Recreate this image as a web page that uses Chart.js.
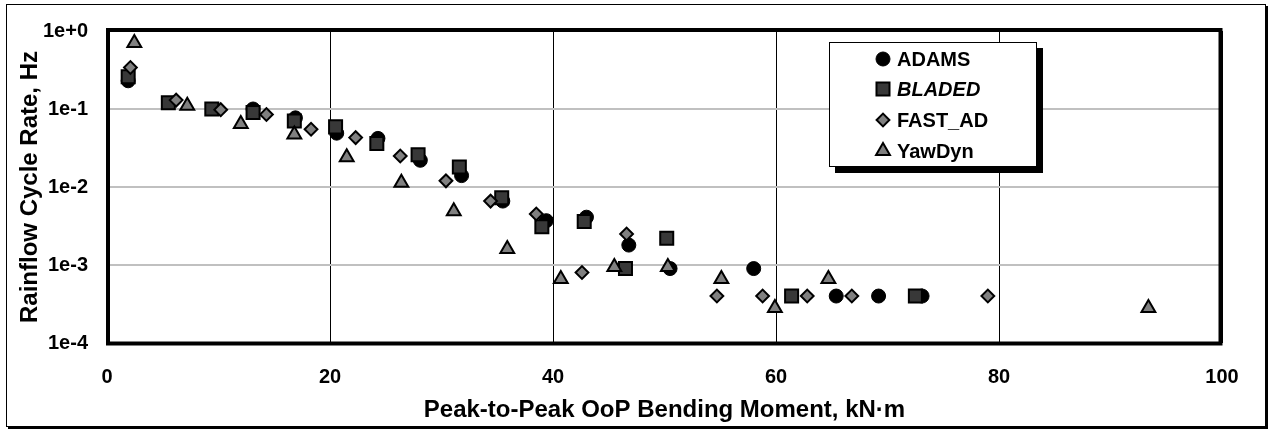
<!DOCTYPE html>
<html><head><meta charset="utf-8">
<script src="https://cdn.jsdelivr.net/npm/chart.js@4/dist/chart.umd.min.js"></script>
<style>html,body{margin:0;padding:0;background:#fff;}canvas{display:block;}</style>
</head><body>
<canvas id="c" width="1271" height="432"></canvas>
<script>
// ---- data ----
const seriesNames = ['ADAMS', 'BLADED', 'FAST_AD', 'YawDyn'];

const adamsX = [1.9, 13.1, 16.9, 20.6, 24.3, 28.1, 31.8, 35.5, 39.4, 43.0, 46.8, 50.5, 58.0, 65.4, 69.2, 73.1];
const adamsY = [0.23, 0.10, 0.077, 0.049, 0.042, 0.022, 0.014, 0.0066, 0.0037, 0.0041, 0.0018, 0.0009, 0.0009, 0.0004, 0.0004, 0.0004];

const bladedX = [1.9, 5.5, 9.4, 13.1, 16.8, 20.5, 24.2, 27.9, 31.6, 35.4, 39.0, 42.8, 46.5, 50.2, 61.4, 72.5];
const bladedY = [0.26, 0.12, 0.10, 0.09, 0.07, 0.059, 0.036, 0.026, 0.018, 0.0073, 0.0031, 0.0036, 0.0009, 0.0022, 0.0004, 0.0004];

const fastX = [2.1, 6.2, 10.2, 14.3, 18.3, 22.3, 26.3, 30.4, 34.4, 38.5, 42.6, 46.6, 54.7, 58.8, 62.8, 66.8, 79.0];
const fastY = [0.34, 0.13, 0.098, 0.085, 0.055, 0.043, 0.025, 0.012, 0.0066, 0.0045, 0.0008, 0.0025, 0.0004, 0.0004, 0.0004, 0.0004, 0.0004];

const yawX = [2.45, 7.2, 12.0, 16.8, 21.5, 26.4, 31.1, 35.9, 40.7, 45.5, 50.3, 55.1, 59.9, 64.7, 93.4];
const yawY = [0.70, 0.11, 0.064, 0.047, 0.024, 0.0113, 0.0049, 0.0016, 0.00066, 0.00094, 0.00094, 0.00066, 0.00028, 0.00066, 0.00028];

const xTickValues = [0, 20, 40, 60, 80, 100];
const xTickLabels = ['0', '20', '40', '60', '80', '100'];
const yTickValues = [1e-4, 1e-3, 1e-2, 1e-1, 1];
const yTickLabels = ['1e-4', '1e-3', '1e-2', '1e-1', '1e+0'];

const xTitle = 'Peak-to-Peak OoP Bending Moment, kN\u00b7m';
const yTitle = 'Rainflow Cycle Rate, Hz';

// ---- styles ----
const FONT = "'Liberation Sans', Arial, Helvetica, sans-serif";
const styles = {
  ADAMS:   {pointStyle: 'circle',  radius: 7,   bg: '#000000', border: '#000000', bw: 1},
  BLADED:  {pointStyle: 'rect',    radius: 9.2, bg: '#383838', border: '#000000', bw: 2},
  FAST_AD: {pointStyle: 'rectRot', radius: 6.4, bg: '#808080', border: '#000000', bw: 2},
  YawDyn:  {pointStyle: 'triangle',radius: 8,   bg: '#808080', border: '#000000', bw: 2}
};

function pts(xs, ys) { return xs.map((x, i) => ({x: x, y: ys[i]})); }
function ds(name, xs, ys) {
  const s = styles[name];
  return {
    label: name, data: pts(xs, ys), showLine: false,
    pointStyle: s.pointStyle, pointRadius: s.radius, pointHoverRadius: s.radius,
    backgroundColor: s.bg, borderColor: s.border, borderWidth: s.bw,
    pointBackgroundColor: s.bg, pointBorderColor: s.border, pointBorderWidth: s.bw
  };
}

// dataset index 0 is drawn on top in Chart.js
const datasets = [
  ds('YawDyn', yawX, yawY),
  ds('FAST_AD', fastX, fastY),
  ds('BLADED', bladedX, bladedY),
  ds('ADAMS', adamsX, adamsY)
];

const framePlugin = {
  id: 'frames',
  beforeDraw(chart) {
    const ctx = chart.ctx;
    ctx.save();
    ctx.fillStyle = '#ffffff';
    ctx.fillRect(0, 0, chart.width, chart.height);
    // outer figure border with small shadow
    ctx.fillStyle = '#000000';
    ctx.fillRect(8, 6, 1260, 423);
    ctx.fillStyle = '#ffffff';
    ctx.fillRect(6, 4, 1260, 423);
    ctx.strokeStyle = '#000000';
    ctx.lineWidth = 1;
    ctx.strokeRect(6.5, 4.5, 1259, 422);
    ctx.restore();
  },
  beforeDatasetsDraw(chart) {
    const ctx = chart.ctx, a = chart.chartArea;
    ctx.save();
    ctx.strokeStyle = '#000000';
    ctx.lineWidth = 4;
    ctx.strokeRect(a.left + 1, a.top - 1, a.right - a.left - 2.5, a.bottom - a.top + 1.5);
    ctx.restore();
  },
  afterDraw(chart) {
    const ctx = chart.ctx;
    ctx.save();
    // legend box with shadow
    const bx = 829, by = 42, bw = 208, bh = 125;
    ctx.fillStyle = '#000000';
    ctx.fillRect(bx + 6, by + 6, bw, bh);
    ctx.fillStyle = '#ffffff';
    ctx.fillRect(bx, by, bw, bh);
    ctx.strokeStyle = '#000000';
    ctx.lineWidth = 1;
    ctx.strokeRect(bx + 0.5, by + 0.5, bw - 1, bh - 1);
    const rows = [59, 89, 120, 151];
    seriesNames.forEach((name, i) => {
      const s = styles[name];
      const cy = rows[i];
      ctx.fillStyle = s.bg;
      ctx.strokeStyle = s.border;
      ctx.lineWidth = s.bw;
      Chart.helpers.drawPoint(ctx, {pointStyle: s.pointStyle, radius: s.radius, rotation: 0, borderWidth: s.bw}, 883, cy);
      ctx.fillStyle = '#000000';
      ctx.textBaseline = 'middle';
      ctx.textAlign = 'left';
      ctx.font = (name === 'BLADED' ? 'italic ' : '') + 'bold 20px ' + FONT;
      ctx.fillText(name, 897, cy + 1);
    });
    ctx.restore();
  }
};

function yLabel(value) {
  const idx = yTickValues.findIndex(v => Math.abs(Math.log10(v) - Math.log10(value)) < 1e-6);
  return idx >= 0 ? yTickLabels[idx] : '';
}
function xLabel(value) {
  const idx = xTickValues.indexOf(value);
  return idx >= 0 ? xTickLabels[idx] : '';
}

new Chart(document.getElementById('c'), {
  type: 'scatter',
  data: {datasets: datasets},
  plugins: [framePlugin],
  options: {
    responsive: false,
    animation: false,
    events: [],
    layout: {padding: {top: 27, right: 49, bottom: 0, left: 0}},
    plugins: {legend: {display: false}, tooltip: {enabled: false}},
    scales: {
      x: {
        type: 'linear', min: 0, max: 100,
        afterBuildTicks(scale) { scale.ticks = xTickValues.map(v => ({value: v})); },
        afterFit(scale) { scale.height = 89; },
        grid: {color: '#000000', lineWidth: 1, drawTicks: false},
        border: {display: false},
        ticks: {
          padding: 22, color: '#000000', maxRotation: 0, autoSkip: false,
          font: {family: FONT, size: 20, weight: 'bold'},
          callback: (v) => xLabel(v)
        },
        title: {
          display: true, text: xTitle, color: '#000000',
          font: {family: FONT, size: 24, weight: 'bold'},
          padding: {top: 0, bottom: 7}
        }
      },
      y: {
        type: 'logarithmic', min: 1e-4, max: 1,
        afterBuildTicks(scale) { scale.ticks = yTickValues.map(v => ({value: v})); },
        afterFit(scale) { scale.width = 107; },
        grid: {color: '#c0c0c0', lineWidth: 2, drawTicks: false},
        border: {display: false},
        ticks: {
          padding: 19, color: '#000000', autoSkip: false,
          font: {family: FONT, size: 20, weight: 'bold'},
          callback: (v) => yLabel(v)
        },
        title: {
          display: true, text: yTitle, color: '#000000',
          font: {family: FONT, size: 24, weight: 'bold'},
          padding: {top: 16, bottom: 0}
        }
      }
    }
  }
});
</script>
</body></html>
